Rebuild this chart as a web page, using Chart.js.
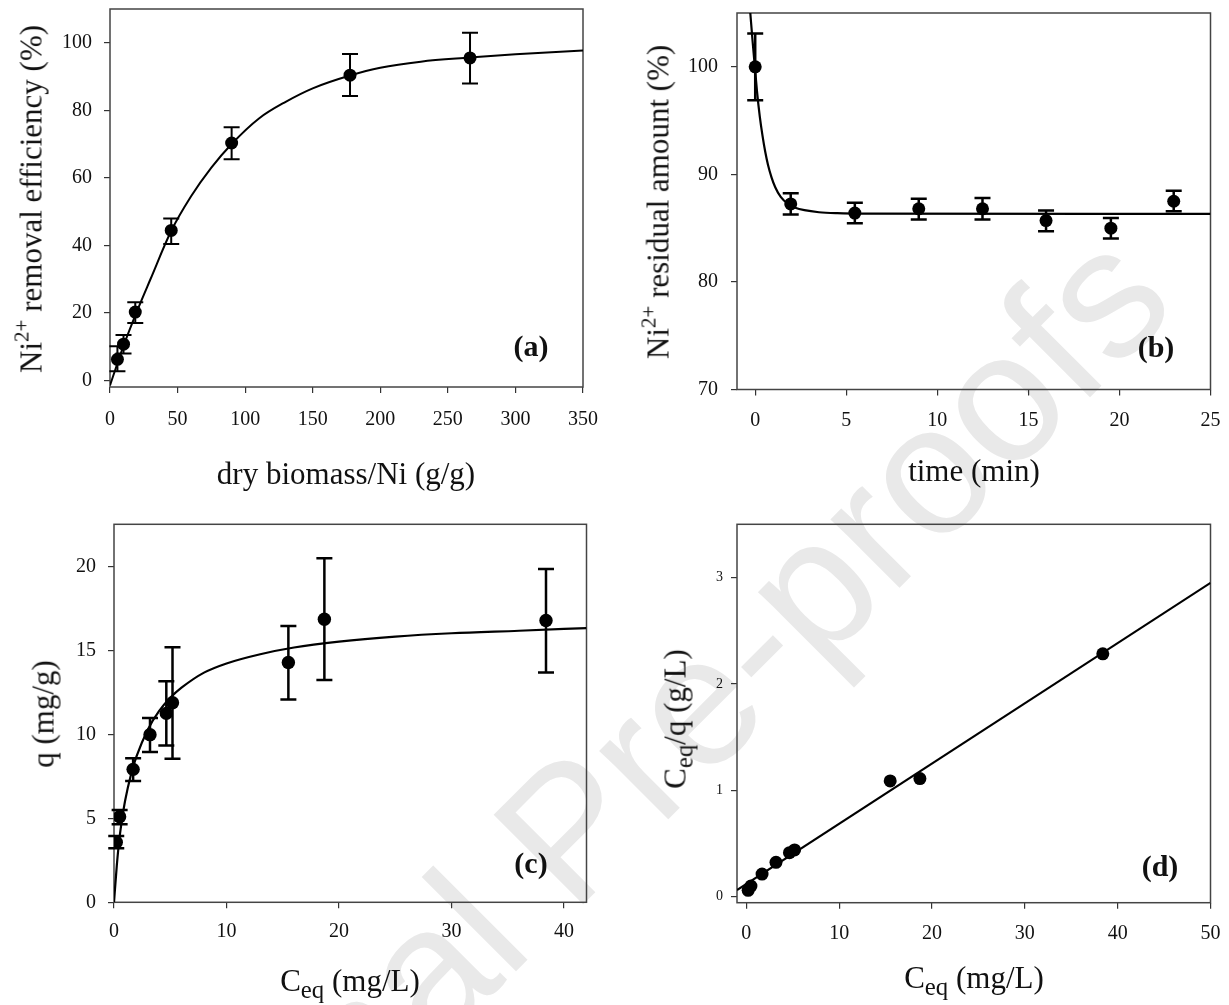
<!DOCTYPE html>
<html>
<head>
<meta charset="utf-8">
<script src="https://cdn.jsdelivr.net/npm/chart.js@4.4.1/dist/chart.umd.min.js"></script>
<style>
  body { margin: 0; background: #fff; }
  #page { position: relative; width: 1229px; height: 1005px; overflow: hidden;
          font-family: "Liberation Serif", "Times New Roman", serif; color: #111; }
  canvas { position: absolute; }
  .txt { position: absolute; white-space: nowrap; line-height: 1; transform: translate(-50%, -50%); }
  .ytitle { transform: translate(-50%, -50%) rotate(-90deg); }
  .panel { font-weight: bold; font-size: 30px; }
  .title { font-size: 31px; }
  sup { font-size: .68em; vertical-align: 0; position: relative; top: -.62em; }
  sub { font-size: .8em; vertical-align: 0; position: relative; top: .28em; }
  #watermark { position: absolute; left: 600px; top: 798px; transform: translate(-50%, -50%) rotate(-45deg);
               font-family: "Liberation Sans", Arial, sans-serif; font-size: 184px; color: #e9e9e9;
               white-space: nowrap; line-height: 1.15; }
</style>
</head>
<body>
<div id="page">
  <div id="watermark">Journal Pre-proofs</div>
  <canvas id="chartA" width="615" height="500" style="left:0;top:0"></canvas>
  <canvas id="chartB" width="614" height="500" style="left:615px;top:0"></canvas>
  <canvas id="chartC" width="615" height="505" style="left:0;top:500px"></canvas>
  <canvas id="chartD" width="614" height="505" style="left:615px;top:500px"></canvas>

  <div class="txt title" style="left:346px;top:473px">dry biomass/Ni (g/g)</div>
  <div class="txt title ytitle" style="left:31px;top:199px">Ni<sup>2+</sup> removal efficiency (%)</div>
  <div class="txt panel" style="left:531px;top:346px">(a)</div>

  <div class="txt title" style="left:974px;top:470px">time (min)</div>
  <div class="txt title ytitle" style="left:658px;top:202px">Ni<sup>2+</sup> residual amount (%)</div>
  <div class="txt panel" style="left:1156px;top:347px">(b)</div>

  <div class="txt title" style="left:350px;top:980px">C<sub>eq</sub> (mg/L)</div>
  <div class="txt title ytitle" style="left:43px;top:714px">q (mg/g)</div>
  <div class="txt panel" style="left:531px;top:863px">(c)</div>

  <div class="txt title" style="left:974px;top:977px">C<sub>eq</sub> (mg/L)</div>
  <div class="txt title ytitle" style="left:675px;top:719px">C<sub>eq</sub>/q (g/L)</div>
  <div class="txt panel" style="left:1160px;top:866px">(d)</div>
</div>
<script>
// (a) removal efficiency vs dry biomass/Ni ratio
const doseRatio    = [5.5, 10, 18.7, 45.3, 90, 177.6, 266.4];
const removalPct   = [6.2, 10.7, 20.2, 44.4, 70.3, 90.4, 95.5];
const removalLow   = [2.7, 7.9, 17.0, 40.4, 65.5, 84.2, 87.9];
const removalHigh  = [10.1, 13.4, 23.1, 47.9, 75.0, 96.7, 103.0];
const removalFitX  = [0, 10, 20, 30, 45, 60, 75, 90, 110, 130, 150, 177.6, 200, 230, 266, 300, 350];
const removalFitY  = [-1.5, 10.2, 20.5, 30, 44, 54.5, 63, 70, 77.5, 82.5, 86.5, 90.3, 92.6, 94.4, 95.6, 96.6, 97.7];
const doseTicks    = [0, 50, 100, 150, 200, 250, 300, 350];
const removalTicks = [0, 20, 40, 60, 80, 100];

// (b) residual amount vs time
const timeMin       = [0, 1.95, 5.47, 8.98, 12.48, 15.97, 19.53, 22.98];
const residualPct   = [100, 87.25, 86.4, 86.8, 86.8, 85.7, 85.0, 87.5];
const residualLow   = [96.9, 86.26, 85.46, 85.8, 85.8, 84.72, 84.04, 86.57];
const residualHigh  = [103.1, 88.24, 87.37, 87.74, 87.8, 86.63, 85.95, 88.48];
const residualFitX  = [-0.27, -0.15, 0, 0.1, 0.25, 0.4, 0.55, 0.7, 0.9, 1.1, 1.4, 1.8, 2.2, 2.7, 3.5, 4.5, 6, 25];
const residualFitY  = [105, 102.5, 99.6, 97.7, 95.4, 93.6, 92.1, 90.9, 89.7, 88.8, 87.9, 87.25, 86.9, 86.67, 86.48, 86.39, 86.35, 86.33];
const timeTicks     = [0, 5, 10, 15, 20, 25];
const residualTicks = [70, 80, 90, 100];

// (c) uptake q vs equilibrium concentration
const ceq        = [0.2, 0.5, 1.7, 3.2, 4.65, 5.2, 15.5, 18.7, 38.4];
const uptake     = [3.58, 5.1, 7.93, 10.0, 11.27, 11.9, 14.31, 16.89, 16.81];
const uptakeLow  = [3.22, 4.65, 7.23, 8.96, 9.36, 8.56, 12.1, 13.26, 13.71];
const uptakeHigh = [3.95, 5.5, 8.59, 10.99, 13.18, 15.22, 16.48, 20.53, 19.89];
const uptakeFitX = [0, 0.25, 0.5, 0.75, 1, 1.5, 2, 3, 4, 5, 6, 8, 10, 13, 16, 20, 25, 30, 36, 42];
const uptakeFitY = [0, 2.2, 3.9, 5.1, 6.1, 7.6, 8.7, 10.3, 11.4, 12.2, 12.8, 13.7, 14.25, 14.8, 15.2, 15.55, 15.85, 16.05, 16.2, 16.36];
const ceqTicksC  = [0, 10, 20, 30, 40];
const uptakeTicks = [0, 5, 10, 15, 20];

// (d) linearised isotherm Ceq/q vs Ceq
const ceqOverQ    = [0.06, 0.1, 0.213, 0.323, 0.414, 0.44, 1.088, 1.11, 2.283];
const linearFitX  = [-1, 50];
const linearFitY  = [0.063, 2.95];
const ceqTicksD   = [0, 10, 20, 30, 40, 50];
const ratioTicks  = [0, 1, 2, 3];

Chart.defaults.font.family = '"Liberation Serif", "Times New Roman", serif';
Chart.defaults.color = '#111';

const pts = (xs, ys) => xs.map((x, i) => ({ x: x, y: ys[i] }));

const errorBars = {
  id: 'errorBars',
  beforeDatasetsDraw(chart) {
    const { ctx, scales: { x, y } } = chart;
    chart.data.datasets.forEach(ds => {
      if (!ds.errLow) return;
      ctx.save();
      ctx.strokeStyle = '#000';
      ctx.lineWidth = ds.errWidth || 2;
      const cap = ds.capHalf || 8;
      ds.data.forEach((p, i) => {
        const px = x.getPixelForValue(p.x);
        const lo = y.getPixelForValue(ds.errLow[i]);
        const hi = y.getPixelForValue(ds.errHigh[i]);
        ctx.beginPath();
        ctx.moveTo(px, lo); ctx.lineTo(px, hi);
        ctx.moveTo(px - cap, lo); ctx.lineTo(px + cap, lo);
        ctx.moveTo(px - cap, hi); ctx.lineTo(px + cap, hi);
        ctx.stroke();
      });
      ctx.restore();
    });
  }
};

const frame = {
  id: 'frame',
  beforeDatasetsDraw(chart) {
    const a = chart.chartArea, ctx = chart.ctx;
    ctx.save();
    ctx.strokeStyle = '#444';
    ctx.lineWidth = 1.5;
    ctx.strokeRect(a.left, a.top, a.right - a.left, a.bottom - a.top);
    ctx.restore();
  }
};

function makePanel(id, p) {
  const datasets = [{
    data: pts(p.xs, p.ys),
    showLine: false,
    pointRadius: p.radius,
    pointBackgroundColor: '#000',
    pointBorderWidth: 0,
    errLow: p.low, errHigh: p.high, errWidth: p.errWidth, capHalf: 8
  }, {
    data: pts(p.fitX, p.fitY),
    showLine: true,
    pointRadius: 0,
    borderColor: '#000',
    borderWidth: p.lineWidth,
    cubicInterpolationMode: p.fitX.length > 2 ? 'monotone' : 'default',
    tension: 0
  }];

  // fixed axis size, and no label overhang padding so the plot box lands where it should
  const axis = (ticks, min, max, size, fit, pad, fontSize) => ({
    type: 'linear', min: min, max: max,
    afterBuildTicks: s => { s.ticks = ticks.map(v => ({ value: v })); },
    afterFit: s => {
      s[fit] = size;
      s.paddingTop = s.paddingBottom = s.paddingLeft = s.paddingRight = 0;
    },
    grid: { display: true, drawOnChartArea: false, drawTicks: true, tickLength: 6, color: '#333', lineWidth: 1.2 },
    border: { display: false },
    ticks: { font: { size: fontSize }, color: '#111', padding: pad, maxRotation: 0, autoSkip: false }
  });

  new Chart(document.getElementById(id), {
    type: 'scatter',
    data: { datasets: datasets },
    options: {
      responsive: false,
      animation: false,
      events: [],
      layout: { autoPadding: false, padding: { left: 0, top: p.padTop, right: p.padRight, bottom: 0 } },
      plugins: { legend: { display: false }, tooltip: { enabled: false } },
      scales: {
        x: axis(p.xTicks, p.xMin, p.xMax, p.xh, 'height', p.xPad, 20),
        y: axis(p.yTicks, p.yMin, p.yMax, p.yw, 'width', p.yPad, p.yFont || 20)
      }
    },
    plugins: [frame, errorBars]
  });
}

makePanel('chartA', {
  xs: doseRatio, ys: removalPct, low: removalLow, high: removalHigh,
  fitX: removalFitX, fitY: removalFitY, xTicks: doseTicks, yTicks: removalTicks,
  xMin: 0, xMax: 350, yMin: -2, yMax: 110,
  yw: 110, xh: 113, padTop: 9, padRight: 32, xPad: 15, yPad: 12,
  radius: 6.5, errWidth: 2, lineWidth: 2
});

makePanel('chartB', {
  xs: timeMin, ys: residualPct, low: residualLow, high: residualHigh,
  fitX: residualFitX, fitY: residualFitY, xTicks: timeTicks, yTicks: residualTicks,
  xMin: -1, xMax: 25, yMin: 70, yMax: 105,
  yw: 122, xh: 110.5, padTop: 13, padRight: 18.5, xPad: 13, yPad: 13,
  radius: 6.5, errWidth: 2.5, lineWidth: 2.2
});

makePanel('chartC', {
  xs: ceq, ys: uptake, low: uptakeLow, high: uptakeHigh,
  fitX: uptakeFitX, fitY: uptakeFitY, xTicks: ceqTicksC, yTicks: uptakeTicks,
  xMin: 0, xMax: 42, yMin: 0, yMax: 22.55,
  yw: 114, xh: 102.7, padTop: 24.3, padRight: 28.5, xPad: 11, yPad: 12,
  radius: 6.7, errWidth: 2.5, lineWidth: 2.2
});

makePanel('chartD', {
  xs: ceq, ys: ceqOverQ, low: null, high: null,
  fitX: linearFitX, fitY: linearFitY, xTicks: ceqTicksD, yTicks: ratioTicks,
  xMin: -1, xMax: 50, yMin: -0.056, yMax: 3.5,
  yw: 122, xh: 102.3, padTop: 24.3, padRight: 18.5, xPad: 13, yPad: 8,
  radius: 6.5, errWidth: 2, lineWidth: 2, yFont: 14
});
</script>
</body>
</html>
